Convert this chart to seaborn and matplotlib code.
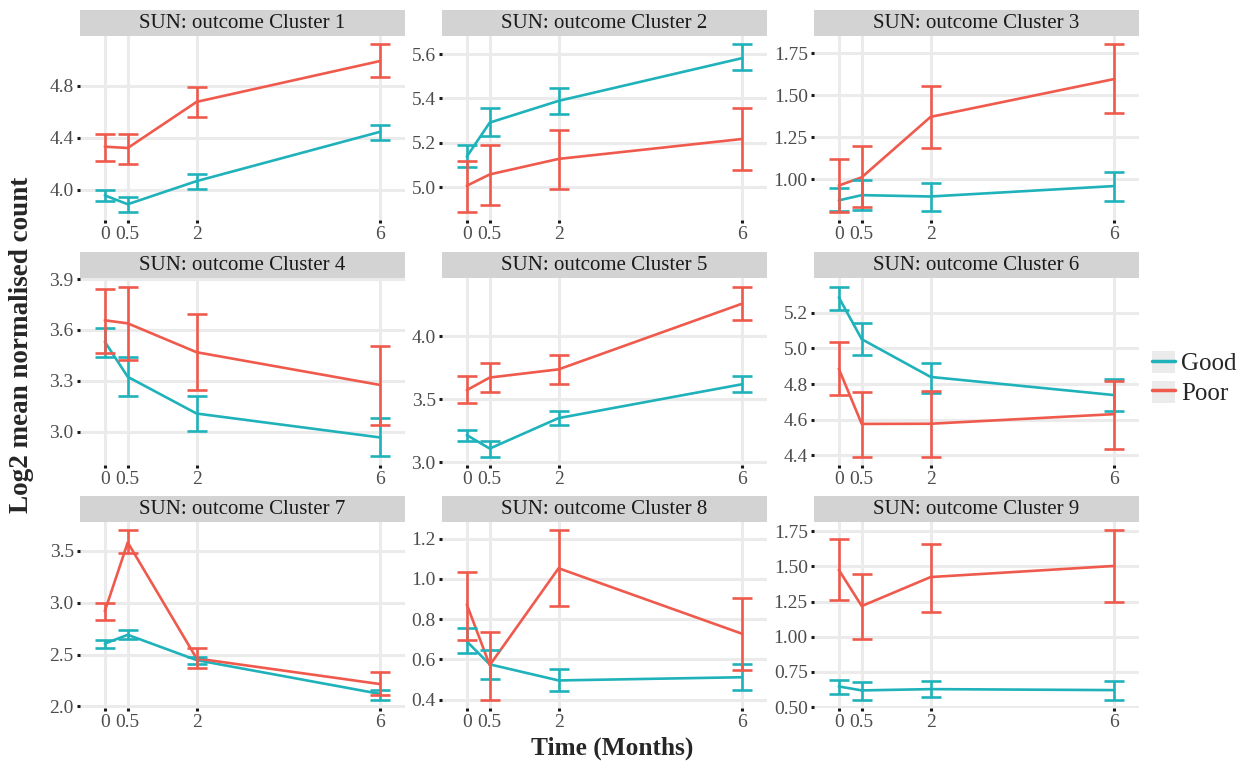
import numpy as np
import pandas as pd
import matplotlib
matplotlib.use("Agg")
import matplotlib.pyplot as plt
import seaborn as sns
from matplotlib.lines import Line2D
from matplotlib.patches import Rectangle

# data (mean and error bar ends per cluster, times 0, 0.5, 2, 6)
times = [0, 0.5, 2, 6]
time_labels = ["0", "0.5", "2", "6"]
groups = ["Good", "Poor"]
clusters = ["SUN: outcome Cluster %d" % i for i in range(1, 10)]

good_mean = [
    [3.955, 3.887, 4.065, 4.445],
    [5.137, 5.291, 5.389, 5.582],
    [0.875, 0.906, 0.898, 0.960],
    [3.531, 3.324, 3.108, 2.967],
    [3.217, 3.110, 3.352, 3.621],
    [5.287, 5.052, 4.840, 4.738],
    [2.605, 2.690, 2.446, 2.120],
    [0.689, 0.575, 0.495, 0.511],
    [0.647, 0.619, 0.628, 0.621],
]
good_lo = [
    [3.91, 3.83, 4.005, 4.385],
    [5.090, 5.229, 5.331, 5.527],
    [0.812, 0.815, 0.812, 0.869],
    [3.442, 3.212, 3.004, 2.855],
    [3.170, 3.047, 3.295, 3.556],
    [5.215, 4.964, 4.751, 4.646],
    [2.563, 2.646, 2.405, 2.066],
    [0.632, 0.501, 0.441, 0.449],
    [0.593, 0.554, 0.570, 0.554],
]
good_hi = [
    [3.995, 3.94, 4.117, 4.50],
    [5.192, 5.355, 5.447, 5.644],
    [0.946, 0.996, 0.979, 1.046],
    [3.614, 3.440, 3.214, 3.079],
    [3.258, 3.170, 3.410, 3.687],
    [5.348, 5.141, 4.917, 4.830],
    [2.642, 2.737, 2.478, 2.161],
    [0.754, 0.645, 0.550, 0.575],
    [0.694, 0.682, 0.687, 0.689],
]
poor_mean = [
    [4.33, 4.32, 4.675, 4.99],
    [5.006, 5.057, 5.127, 5.217],
    [0.963, 1.012, 1.371, 1.596],
    [3.657, 3.639, 3.469, 3.276],
    [3.574, 3.674, 3.739, 4.261],
    [4.886, 4.576, 4.577, 4.631],
    [2.917, 3.580, 2.462, 2.215],
    [0.873, 0.571, 1.053, 0.727],
    [1.475, 1.218, 1.424, 1.503],
]
poor_lo = [
    [4.22, 4.20, 4.56, 4.87],
    [4.889, 4.918, 4.991, 5.079],
    [0.808, 0.835, 1.187, 1.394],
    [3.462, 3.421, 3.247, 3.041],
    [3.470, 3.556, 3.619, 4.131],
    [4.738, 4.393, 4.393, 4.435],
    [2.835, 3.481, 2.367, 2.108],
    [0.697, 0.400, 0.865, 0.547],
    [1.258, 0.985, 1.179, 1.246],
]
poor_hi = [
    [4.425, 4.43, 4.79, 5.118],
    [5.119, 5.192, 5.258, 5.357],
    [1.121, 1.200, 1.552, 1.802],
    [3.842, 3.856, 3.693, 3.508],
    [3.684, 3.789, 3.854, 4.397],
    [5.039, 4.753, 4.760, 4.816],
    [3.000, 3.696, 2.563, 2.329],
    [1.033, 0.738, 1.241, 0.903],
    [1.692, 1.447, 1.661, 1.755],
]
y_ticks = [
    [4.0, 4.4, 4.8],
    [5.0, 5.2, 5.4, 5.6],
    [1.00, 1.25, 1.50, 1.75],
    [3.0, 3.3, 3.6, 3.9],
    [3.0, 3.5, 4.0],
    [4.4, 4.6, 4.8, 5.0, 5.2],
    [2.0, 2.5, 3.0, 3.5],
    [0.4, 0.6, 0.8, 1.0, 1.2],
    [0.50, 0.75, 1.00, 1.25, 1.50, 1.75],
]
y_decimals = [1, 1, 2, 1, 1, 1, 1, 1, 2]

colors = {"Good": "#1FB2BA", "Poor": "#EF5A4D"}

# long table
rows = []
for i, cl in enumerate(clusters):
    for g, m, lo, hi in [("Good", good_mean, good_lo, good_hi), ("Poor", poor_mean, poor_lo, poor_hi)]:
        for j, t in enumerate(times):
            rows.append({"cluster": cl, "group": g, "time": t,
                         "mean": m[i][j], "lo": lo[i][j], "hi": hi[i][j]})
df = pd.DataFrame(rows)

sns.set_theme(style="whitegrid")
plt.rcParams["font.family"] = ["Liberation Serif", "DejaVu Serif"]

W, H = 1253, 767
fig = plt.figure(figsize=(W / 100, H / 100), dpi=100)

lefts = [80, 442, 814]
tops = [36, 278, 522]
bottoms = [220, 465, 708]
pw = 325
strip_h = 26

for i, cl in enumerate(clusters):
    r, c = divmod(i, 3)
    ph = bottoms[r] - tops[r]
    ax = fig.add_axes([lefts[c] / W, 1 - bottoms[r] / H, pw / W, ph / H])
    sub = df[df["cluster"] == cl]

    sns.lineplot(data=sub, x="time", y="mean", hue="group", hue_order=groups,
                 palette=colors, ax=ax, legend=False, linewidth=1.9, errorbar=None)
    for g in groups:
        s = sub[sub["group"] == g]
        ax.errorbar(s["time"], s["mean"], yerr=[s["mean"] - s["lo"], s["hi"] - s["mean"]],
                    fmt="none", ecolor=colors[g], elinewidth=1.9, capsize=7, capthick=1.9)

    lo = sub["lo"].min()
    hi = sub["hi"].max()
    pad = 0.05 * (hi - lo)
    ax.set_ylim(lo - pad, hi + pad)
    ax.set_xlim(-0.54, 6.54)
    ax.set_xticks(times)
    ax.set_xticklabels(time_labels)
    ax.set_yticks(y_ticks[i])
    ax.set_yticklabels([f"{v:.{y_decimals[i]}f}" for v in y_ticks[i]])
    ax.set_xlabel("")
    ax.set_ylabel("")

    ax.set_facecolor("white")
    for sp in ax.spines.values():
        sp.set_visible(False)
    ax.grid(True, color="#EBEBEB", linewidth=2.2)
    ax.set_axisbelow(True)
    ax.tick_params(axis="both", which="major", length=2, width=2.2, color="#1a1a1a",
                   labelcolor="#4D4D4D", labelsize=14, pad=2.5, bottom=True, left=True)

    ax.add_patch(Rectangle((0, 1), 1, strip_h / ph, transform=ax.transAxes,
                           facecolor="#D3D3D3", edgecolor="none", clip_on=False))
    ax.text(0.5, 1 + strip_h / ph / 2, cl, transform=ax.transAxes, ha="center",
            va="center", fontsize=15, color="#1A1A1A")

fig.text(612 / W, 1 - 748 / H, "Time (Months)", ha="center", va="center",
         fontsize=18.3, fontweight="bold")
fig.text(22 / W, 1 - 345 / H, "Log2 mean normalised count", ha="center", va="center",
         rotation=90, fontsize=19.5, fontweight="bold")

handles = []
for g in groups:
    key = Rectangle((0, 0), 1, 1, facecolor="#EBEBEB", edgecolor="none")
    handles.append((key, Line2D([0], [0], color=colors[g], linewidth=2.5)))
fig.legend(handles, groups, loc="center left", bbox_to_anchor=(1152 / W, 1 - 378 / H),
           frameon=False, fontsize=18, handlelength=0.9, handleheight=1.0,
           handletextpad=0.25, labelspacing=0.2, borderpad=0, borderaxespad=0)

fig.savefig("out.png", dpi=100)
